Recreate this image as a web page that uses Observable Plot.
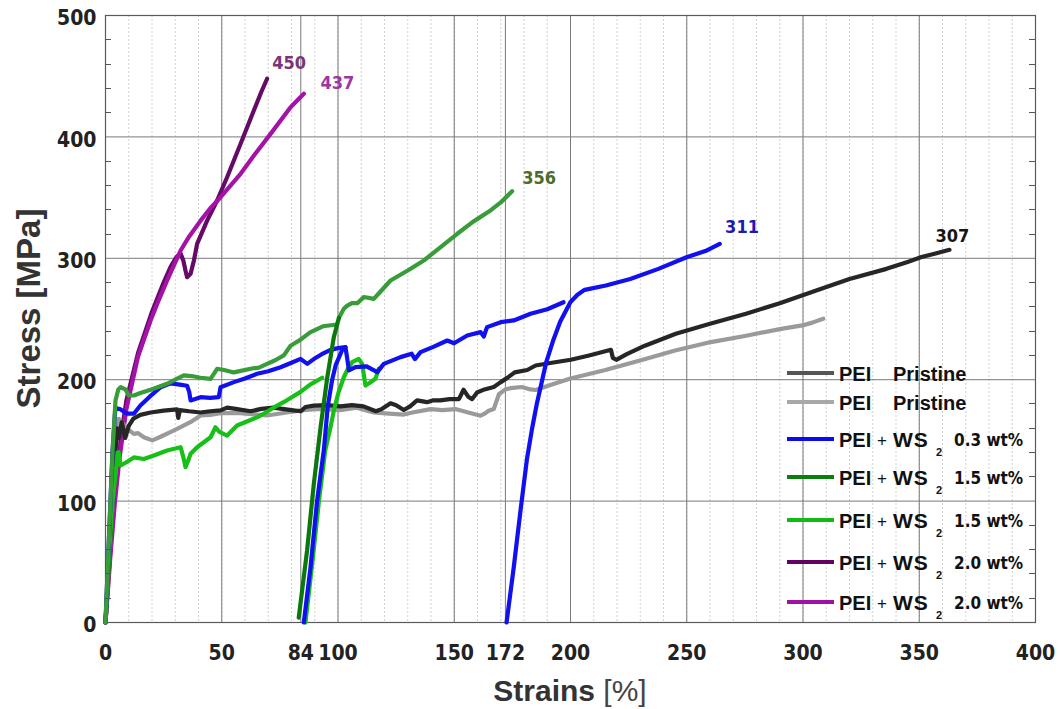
<!DOCTYPE html>
<html>
<head>
<meta charset="utf-8">
<script src="https://cdn.jsdelivr.net/npm/d3@7"></script>
<script src="https://cdn.jsdelivr.net/npm/@observablehq/plot@0.6"></script>
<style>
  html, body { margin: 0; padding: 0; background: #fff; }
  #chart { width: 1060px; height: 709px; }
</style>
</head>
<body>
<div id="chart"></div>
<script>
// ---------- data (strain %, stress MPa) ----------
const pristineA = [[0,0],[2.2,72],[4.3,142],[5,160],[5.8,152],[7,165],[8.5,152],[10,162],[12,168],[15,171],[19.4,173],[25,174.5],[30.8,175.5],[31.3,168.5],[32,175],[36,174],[40.9,173],[45,174],[49.5,174.7],[52.3,177],[56,176],[62.4,174],[67,176],[72.3,177],[76,176],[80,175],[84,174],[86,177.5],[89.6,178.7],[95,179],[101,178],[106,179],[111,178],[116.3,174],[119,176],[122.6,180.6],[125,179],[128.3,175],[131,178],[134,183],[138.3,181.5],[141,183],[144,183],[148,184],[152,184],[154,191.7],[156,186],[157.7,184],[159.8,189.5],[163,192],[167,194],[170,198],[172.8,201.5],[176,206],[181.4,208],[185,211.7],[192,214],[200.1,216.4],[208,220],[217.4,224.6],[218.2,218],[219.7,216.4],[224.2,221],[232,228],[245.3,237.8],[260,246],[275.5,254.3],[290,263],[305.7,273.5],[320,283],[335.9,291.3],[345,297],[351,301],[357,304],[363,307]];
const pristineB = [[0,0],[2.2,70],[4.3,140],[5.2,160],[5.7,167.8],[7,165],[9,160],[12.2,155.4],[14,156],[16.5,152.6],[20.1,150],[23.7,153],[27,156],[30.8,159.5],[36.5,165],[40.9,170.5],[45,171],[49.5,172.5],[58,172.5],[64,171.5],[69.5,170.5],[78,173],[85,175],[92,176],[101,175],[108,177],[115.4,173],[122,172],[128.3,171.3],[132,173],[139.8,175.8],[145,175],[150.5,175.8],[156,173],[161.3,170.3],[163,172],[164.8,174.4],[167,175.8],[169.2,188],[172,192],[174.2,193],[179,194],[182.8,192],[185,191.5],[192,196],[200,201],[215,208],[230.3,216],[245,224],[260.4,231],[275,236],[290.6,241.9],[299.7,244.7],[304,247],[308.7,250.2]];
const ws03Main = [[0,0],[1.5,70],[3,140],[4,170],[4.3,177.4],[5,176],[6,176],[9.3,172],[12.2,172],[15,178.7],[19,186],[23.7,193.8],[28,197],[32,196],[35.1,195],[36,190],[36.6,182.9],[40.9,185.6],[45,185],[48.7,185.6],[49.5,193.8],[55.2,198],[60,201],[65.2,204.9],[70,207],[75.3,210.3],[80,214],[83.9,217.2],[86.8,213],[89.6,217],[93,221],[96.8,224.6],[100,226],[103.2,226.8],[104,217],[104.7,207.6],[107.5,210.3],[112.3,211],[116.9,206.2],[119.7,213],[126.9,218.6],[131.7,221.4],[133.1,217],[135.5,222.7],[141,227],[147,232.3],[149.9,230],[155.6,236.4],[161.3,239.2],[162.7,235.6],[164.1,243.3],[170,247.4],[175.6,248.8],[182.8,254.3],[190,258],[197,263.8]];
const ws03Reload1 = [[85.3,0],[88.2,46],[91,100],[93.9,142],[95.6,178],[97.5,200],[99,212],[101.8,224.5],[103.2,226.8]];
const ws03Reload2 = [[172.5,0],[175.6,45.6],[178.5,92.3],[181.3,135],[183.5,160],[185.5,180],[189.5,214],[192.5,232],[195.6,248],[200,264],[203,270],[206.1,274],[215.2,277.6],[225.7,283],[237.8,291.3],[249.9,300.9],[258,306],[264.2,311.9]];
const ws15aMain = [[0,0],[1.5,70],[3,140],[4.3,182.9],[5.5,192],[6.5,193.8],[8.6,192],[10,187],[12.2,187],[15,189],[19.4,191.7],[26.5,196.6],[30,200],[33.7,203.5],[37,203],[40.9,201.6],[45.2,200.7],[48,209],[51,208],[55.2,206],[62.4,209],[66,210],[69.5,213],[73,216],[76.7,220],[79.6,228],[83.9,233],[88,239],[93.5,244],[99.6,245.5]];
const ws15aReload = [[83.1,4],[86.7,59.3],[89.6,114.2],[92.5,160.9],[95.4,202],[98.2,235],[100.4,251]];
const ws15aUpper = [[100.4,251],[102.5,258.4],[104,261],[106,263],[108.3,263],[111.1,268],[113,267.5],[115.4,266.6],[118,272],[122.6,281.7],[130,290],[136.9,298.2],[144,309],[151.3,320.2],[158,330],[165.6,339.4],[170,346],[174.9,355.3]];
const ws15bMain = [[0,0],[1.5,55],[3,100],[4.5,125],[5.2,140],[5.7,140.3],[6.5,129.3],[9,132],[12.2,136],[16.5,134.7],[20.8,137.6],[26.5,141.7],[32.3,144.4],[33.5,136],[34.4,128],[35.5,133],[36.6,139],[39.4,144.4],[45.2,152.6],[47.3,160.8],[49,157],[52.3,154],[56.6,162.3],[60,165],[65.2,169],[69,173],[73.8,178.7],[78,183],[83.9,190],[88,196],[93.2,201.6]];
const ws15bReload = [[86,0],[89,50],[91.8,100],[94.5,141.7],[96.8,161],[98.2,174.6],[100.3,190],[102.5,202],[104,208],[106.1,214.4],[108.9,217.2],[110.4,213],[111.8,195.2],[114,198],[116.1,200.7],[117.5,209]];
const ws20a = [[0,0],[2,58],[4,108],[6,145],[9,183],[14,222],[20,256],[25,280],[28,293],[30.5,301],[32.3,304],[33.5,298],[34.4,290],[35.1,284.4],[36.6,287.2],[38,298],[39.4,311.9],[43.7,331],[48,347.6],[52.3,366.8],[58.1,394.3],[63.8,421.7],[67,437],[69.5,447.9]];
const ws20b = [[0,0],[2,52],[4,98],[6,135],[9,176],[14,219],[19.4,248.8],[23,266],[26.5,281.7],[32.3,306.4],[36,318],[40.9,331],[45,341],[49.5,350.3],[58.1,369.6],[64,385],[71,402.5],[79.6,424.5],[85.3,435.5]];

const xTickValues = [0, 50, 84, 100, 150, 172, 200, 250, 300, 350, 400];
const yTickValues = [0, 100, 200, 300, 400, 500];
const endLabelText = ["450", "437", "356", "311", "307"];
const endLabelX = [71.7, 92.5, 179.2, 266.5, 357];
const endLabelY = [460.9, 444.4, 366.1, 325.6, 318.4];
const legendBase = ["PEI", "PEI", "PEI", "PEI", "PEI", "PEI", "PEI"];
const legendLoad = [null, null, "0.3 wt%", "1.5 wt%", "1.5 wt%", "2.0 wt%", "2.0 wt%"];

// ---------- styles ----------
const curveColors = {
  pristineA: "#262626", pristineB: "#9a9a9a",
  ws03: "#1010f0", ws15a: "#389c38", ws15aSteep: "#0c780c", ws15b: "#16c016",
  ws20a: "#650a66", ws20b: "#a412a8"
};
const legendColors = ["#555555", "#a8a8a8", "#0a0af0", "#0a7d0a", "#12bb12", "#640064", "#a010a4"];
const labelColors = ["#7a3579", "#9c35a2", "#4d6b2c", "#1a1ab4", "#151515"];

const segments = [
  [ws20a, curveColors.ws20a],
  [ws20b, curveColors.ws20b],
  [pristineB, curveColors.pristineB],
  [pristineA, curveColors.pristineA],
  [ws15bMain, curveColors.ws15b],
  [ws15bReload, curveColors.ws15b],
  [ws03Main, curveColors.ws03],
  [ws03Reload1, curveColors.ws03],
  [ws03Reload2, curveColors.ws03],
  [ws15aMain, curveColors.ws15a],
  [ws15aUpper, curveColors.ws15a],
  [ws15aReload, curveColors.ws15aSteep]
];

const endLabels = endLabelText.map((t, i) => ({text: t, x: endLabelX[i], y: endLabelY[i], color: labelColors[i]}));

const condensed = "'DejaVu Sans Condensed', 'DejaVu Sans', sans-serif";
const arial = "'Liberation Sans', Arial, sans-serif";

const xMinor = d3.range(10, 400, 10);
const xMajor = [50, 84, 100, 150, 172, 200, 250, 300, 350];
const yMajor = [100, 200, 300, 400];
const yMinor = d3.range(20, 500, 20).filter(v => v % 100 !== 0);

const chart = Plot.plot({
  width: 1060,
  height: 709,
  marginLeft: 105,
  marginRight: 25,
  marginTop: 15,
  marginBottom: 87,
  x: {domain: [0, 400], axis: null},
  y: {domain: [0, 500], axis: null},
  color: {type: "identity"},
  style: {background: "#fff", overflow: "visible"},
  marks: [
    Plot.ruleX(xMinor, {x: d => d, stroke: "#d2d2d2", strokeDasharray: "2,2", strokeWidth: 1}),
    Plot.ruleX(xMajor, {x: d => d, stroke: "#7a7a7a", strokeWidth: 1}),
    Plot.ruleY(yMajor, {y: d => d, stroke: "#7a7a7a", strokeWidth: 1}),
    Plot.frame({stroke: "#5a5a5a", strokeWidth: 1.2}),
    ...segments.map(([data, color]) =>
      Plot.line(data, {x: d => d[0], y: d => d[1], stroke: color, strokeWidth: 4.2, strokeLinejoin: "round", strokeLinecap: "round"})
    ),
    Plot.text(endLabels, {x: "x", y: "y", text: "text", fill: "color", textAnchor: "start", lineAnchor: "middle",
      fontFamily: condensed, fontWeight: "bold", fontSize: 18}),
    Plot.text(xTickValues, {x: d => d, text: d => String(d), frameAnchor: "bottom", dy: 31, lineAnchor: "middle",
      fontFamily: condensed, fontWeight: "bold", fontSize: 21, fill: "#222"}),
    Plot.text(yTickValues, {y: d => d, text: d => String(d), frameAnchor: "left", dx: -9, dy: 3, textAnchor: "end", lineAnchor: "middle",
      fontFamily: condensed, fontWeight: "bold", fontSize: 21, fill: "#222"})
  ]
});

document.getElementById("chart").appendChild(chart);

// ---------- extras drawn with the plot's own scales ----------
const svg = d3.select(chart);
const xs = chart.scale("x"), ys = chart.scale("y");
const x0 = xs.apply(0), x1 = xs.apply(400);

const ticks = svg.append("g").attr("stroke", "#555").attr("stroke-width", 1);
yMinor.forEach(v => {
  const yy = Math.round(ys.apply(v)) + 0.5;
  ticks.append("line").attr("x1", x0).attr("x2", x0 + 6).attr("y1", yy).attr("y2", yy);
  ticks.append("line").attr("x1", x1 - 6).attr("x2", x1).attr("y1", yy).attr("y2", yy);
});

// axis titles
const yTitle = svg.append("text")
  .attr("transform", `translate(40, ${(ys.apply(0) + ys.apply(500)) / 2 - 10}) rotate(-90)`)
  .attr("text-anchor", "middle")
  .attr("font-family", arial).attr("font-weight", "bold").attr("font-size", 33).attr("fill", "#333");
yTitle.append("tspan").text("Stress ");
yTitle.append("tspan").text("[MPa]");

const xTitle = svg.append("text")
  .attr("x", 570).attr("y", 701)
  .attr("text-anchor", "middle")
  .attr("font-family", arial).attr("fill", "#333");
xTitle.append("tspan").attr("font-weight", "bold").attr("font-size", 30).text("Strains ");
xTitle.append("tspan").attr("font-weight", "normal").attr("font-size", 30).attr("fill", "#444").text("[%]");

// legend
const rowY = [373, 402, 439, 477, 520, 562, 602];
const lg = svg.append("g").attr("text-anchor", "start");
legendBase.forEach((base, i) => {
  const y = rowY[i];
  lg.append("line").attr("x1", 787).attr("x2", 834).attr("y1", y).attr("y2", y)
    .attr("stroke", legendColors[i]).attr("stroke-width", 4);
  const g = lg.append("g").attr("fill", "#111").attr("font-family", arial).attr("text-anchor", "start");
  g.append("text").attr("x", 839).attr("y", y + 8).attr("font-weight", "bold").attr("font-size", 20).text(base);
  if (legendLoad[i] === null) {
    g.append("text").attr("x", 893).attr("y", y + 8).attr("font-weight", "bold").attr("font-size", 20).text("Pristine");
  } else {
    g.append("text").attr("x", 877).attr("y", y + 7).attr("font-weight", "normal").attr("font-size", 17).text("+");
    g.append("text").attr("x", 893).attr("y", y + 8).attr("font-weight", "bold").attr("font-size", 21).attr("letter-spacing", 1).text("WS");
    g.append("text").attr("x", 936).attr("y", y + 17).attr("font-weight", "bold").attr("font-size", 11).text("2");
    g.append("text").attr("x", 954).attr("y", y + 7).attr("font-family", condensed).attr("font-weight", "bold").attr("font-size", 17).text(legendLoad[i]);
  }
});
</script>
</body>
</html>
